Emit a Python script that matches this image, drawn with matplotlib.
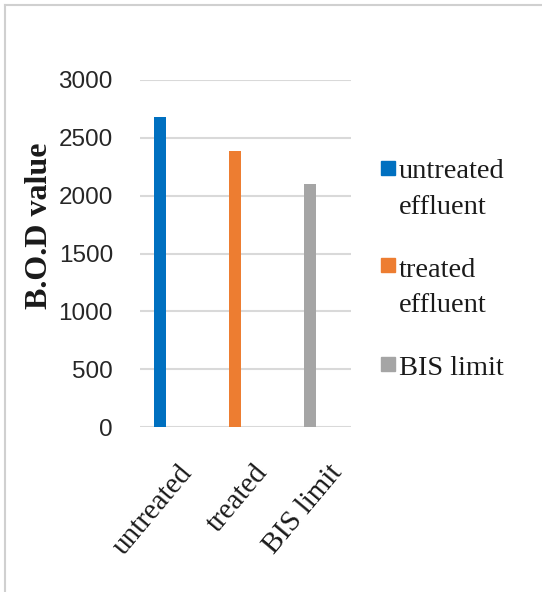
import matplotlib
matplotlib.use("Agg")
import matplotlib.pyplot as plt
from matplotlib.transforms import ScaledTranslation
from matplotlib.patches import Rectangle
from matplotlib.lines import Line2D

categories = ["untreated", "treated", "BIS limit"]
series_names = ["untreated\neffluent", "treated\neffluent", "BIS limit"]
values = [2680, 2390, 2100]
colors = ["#0070C0", "#ED7D31", "#A5A5A5"]
yticks = [0, 500, 1000, 1500, 2000, 2500, 3000]

W, H = 542, 592
DPI = 100
fig = plt.figure(figsize=(W / DPI, H / DPI), dpi=DPI)
fig.patch.set_facecolor("white")

# axes placement (pixels)
x0, x1 = 140, 351
y0, y1 = 427, 80
ax = fig.add_axes([x0 / W, 1 - y0 / H, (x1 - x0) / W, (y0 - y1) / H])

pos = list(range(len(categories)))
ax.bar(pos, values, width=0.167, color=colors, zorder=3)
ax.set_xlim(-0.267, 2.547)
ax.set_ylim(0, 3000)
ax.set_yticks(yticks)
ax.set_yticklabels([str(v) for v in yticks], fontsize=17.5,
                   family="Liberation Sans", color="#262626")
ax.tick_params(axis="y", length=0, pad=19.5)
ax.grid(axis="y", color="#D9D9D9", linewidth=1.5, zorder=0)
for s in ax.spines.values():
    s.set_visible(False)

ax.set_xticks(pos)
ax.set_xticklabels(categories, rotation=50, ha="right", va="top",
                   rotation_mode="anchor", fontsize=21,
                   family="Liberation Serif", color="#1a1a1a")
ax.tick_params(axis="x", length=0, pad=0)
off = ScaledTranslation(18 / DPI, -33 / DPI, fig.dpi_scale_trans)
for lab in ax.get_xticklabels():
    lab.set_transform(lab.get_transform() + off)

fig.text(40 / W, 1 - 226 / H, "B.O.D value", rotation=90, ha="center",
         va="center", fontsize=23, fontweight="bold",
         family="Liberation Serif", color="#1a1a1a")

# legend (manual)
sq_tops = [161, 258, 357]
baselines = [178, 277, 375]
for name, c, top, base in zip(series_names, colors, sq_tops, baselines):
    fig.patches.append(Rectangle((381 / W, 1 - (top + 14) / H), 14 / W, 14 / H,
                                 transform=fig.transFigure, color=c,
                                 figure=fig))
    for i, line in enumerate(name.split("\n")):
        fig.text(399 / W, 1 - (base + 35.5 * i) / H, line, ha="left",
                 va="baseline", fontsize=20.5, family="Liberation Serif",
                 color="#1a1a1a")

# border lines
fig.add_artist(Line2D([5 / W, 5 / W], [0, 1 - 5 / H], transform=fig.transFigure,
                      color="#D0D0D0", lw=1.5))
fig.add_artist(Line2D([5 / W, 1], [1 - 5 / H, 1 - 5 / H], transform=fig.transFigure,
                      color="#D0D0D0", lw=1.5))

fig.savefig("out.png", dpi=DPI)
